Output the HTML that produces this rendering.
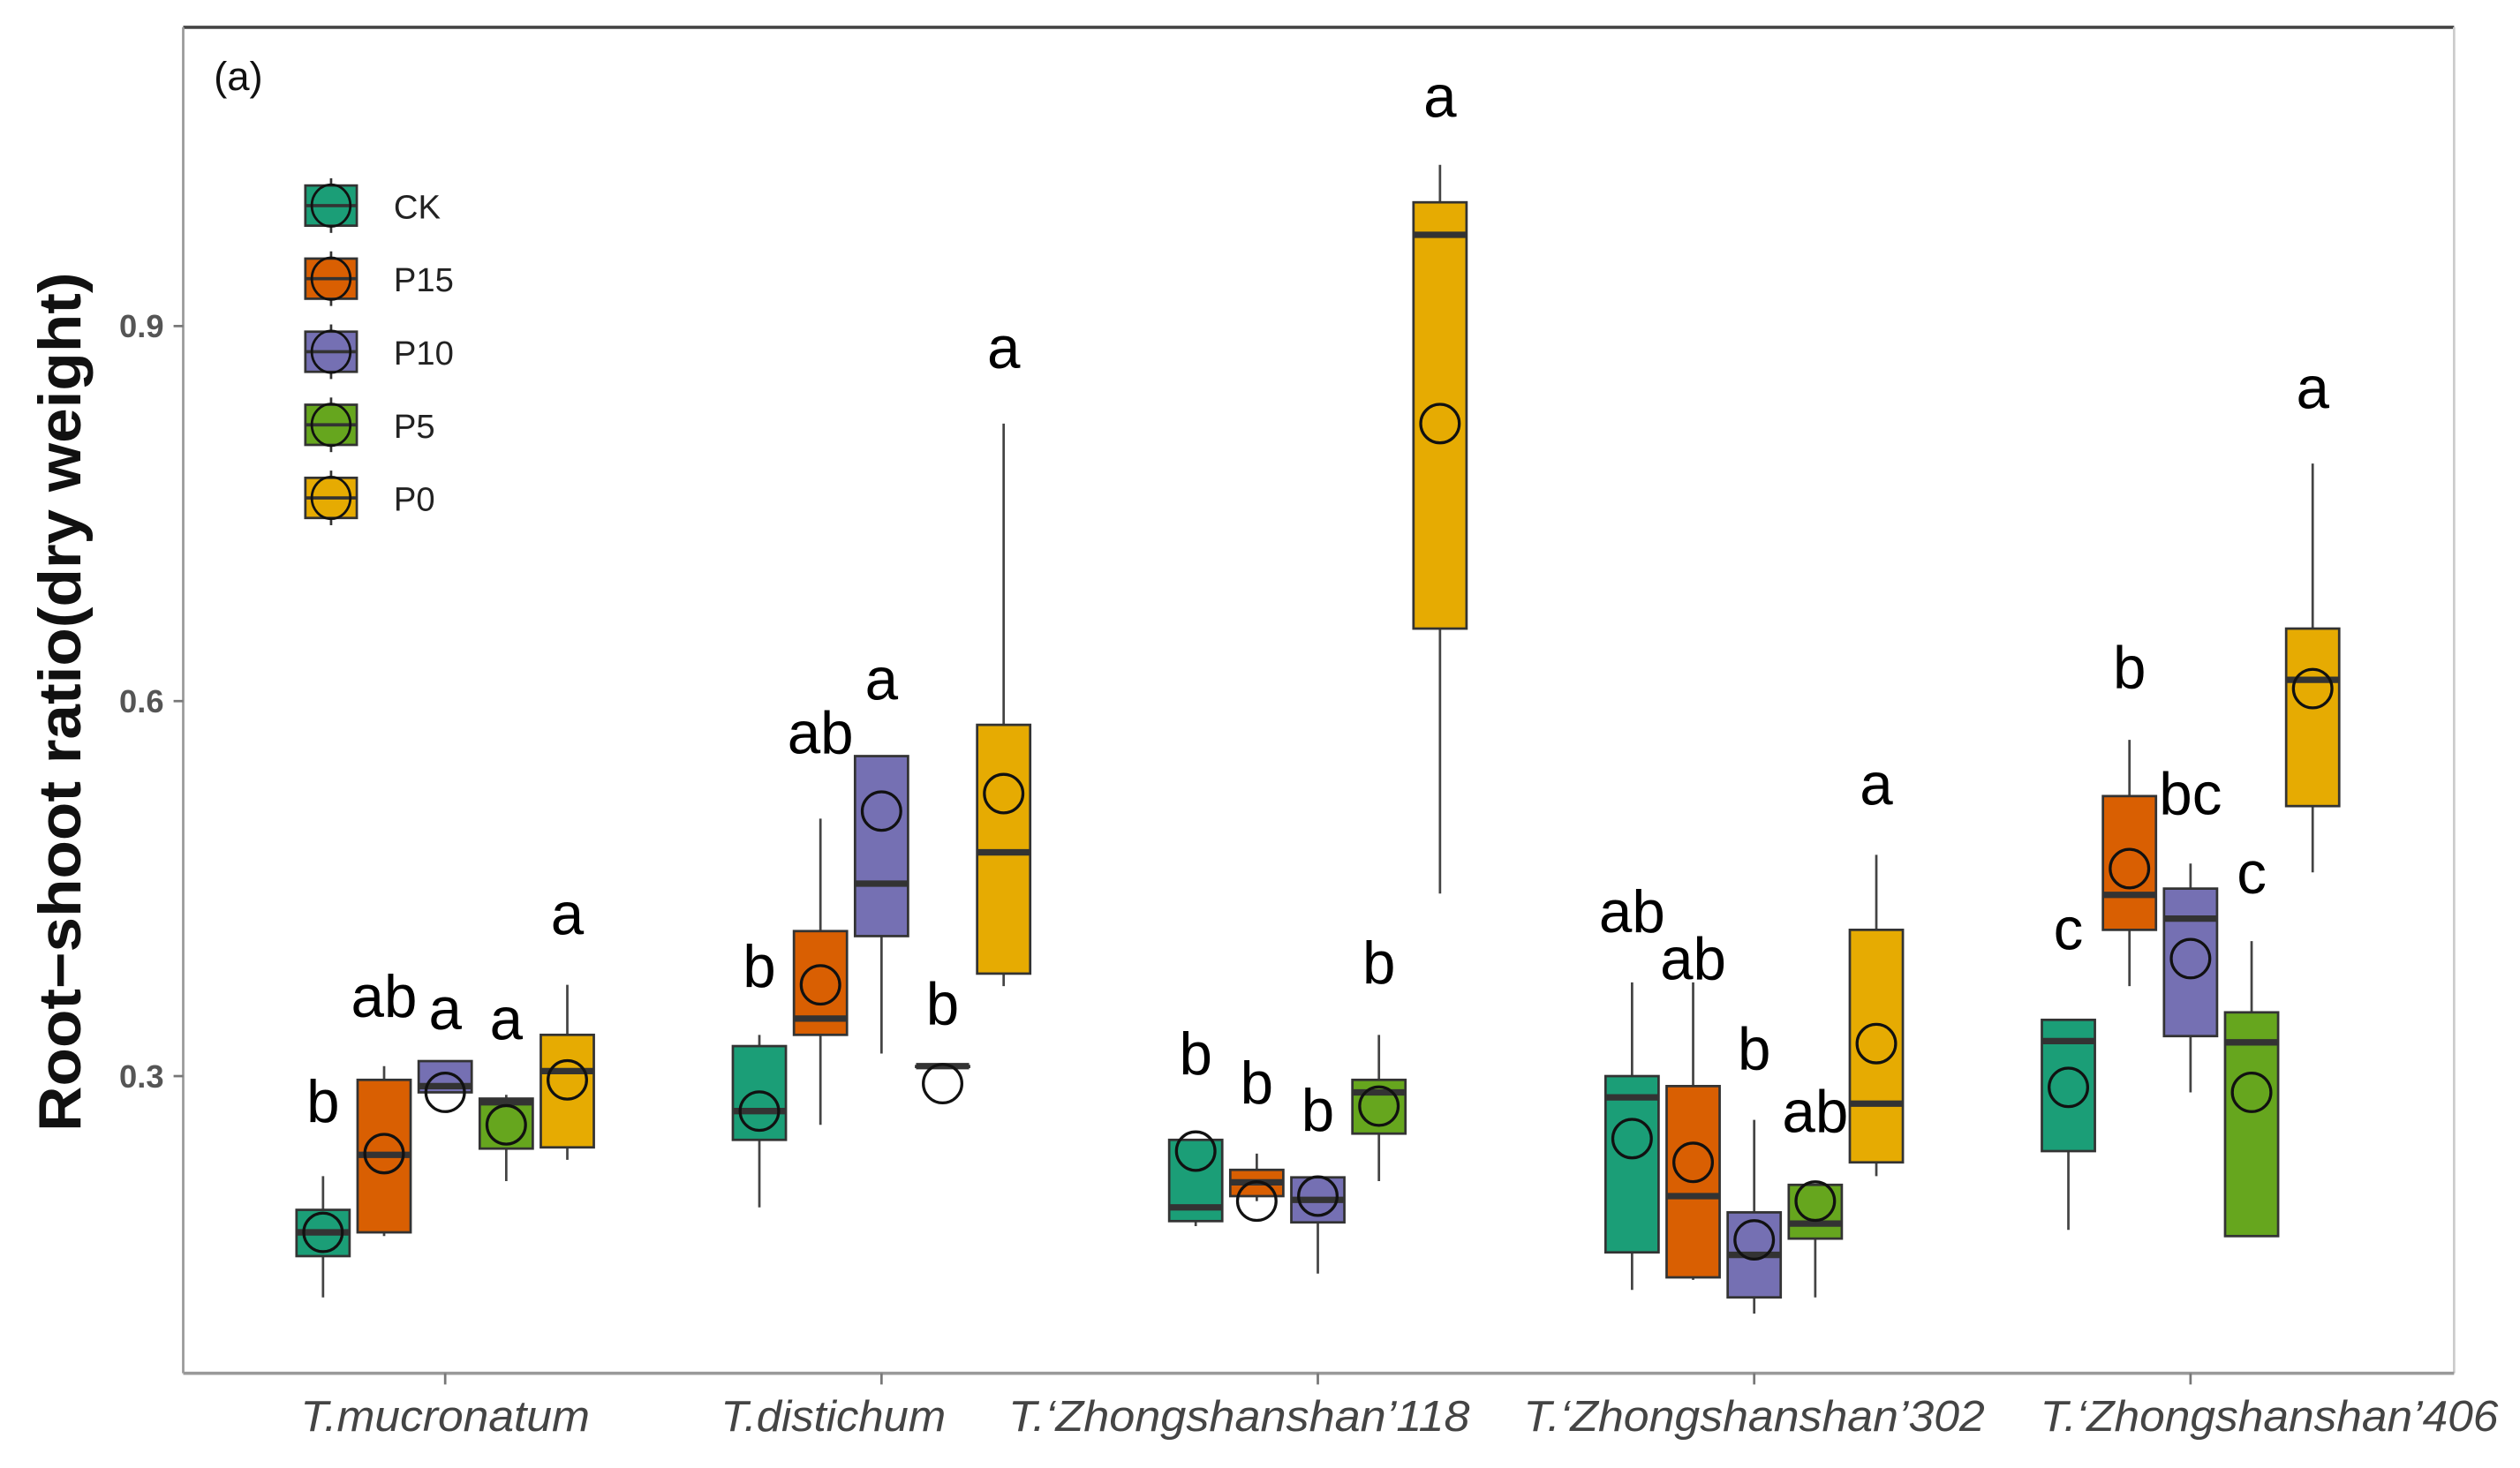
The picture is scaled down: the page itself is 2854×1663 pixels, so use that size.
<!DOCTYPE html>
<html><head><meta charset="utf-8">
<style>
html,body{margin:0;padding:0;background:#fff;}
svg{display:block;}
</style></head>
<body>
<svg id="chart" xmlns="http://www.w3.org/2000/svg" width="2854" height="1663" viewBox="0 0 1568 914" preserveAspectRatio="none" font-family="Liberation Sans, sans-serif">
  <rect x="0" y="0" width="1568" height="914" fill="#fff"/>
  <line x1="114" y1="17" x2="1527" y2="17" stroke="#444" stroke-width="2"/>
  <line x1="1527" y1="17" x2="1527" y2="855" stroke="#ccc" stroke-width="1.5"/>
  <line x1="114" y1="17" x2="114" y2="855" stroke="#999" stroke-width="1.5"/>
  <line x1="114" y1="855" x2="1527" y2="855" stroke="#999" stroke-width="2"/>
  <text x="133" y="56" font-size="25" fill="#111">(a)</text>
  <text transform="translate(50,437) rotate(-90)" text-anchor="middle" font-size="37" font-weight="bold" fill="#111" textLength="535" lengthAdjust="spacingAndGlyphs">Root−shoot ratio(dry weight)</text>
  <g id="marks"></g>
</svg>
<script>
const categories = ["T.mucronatum","T.distichum","T.‘Zhongshanshan’118","T.‘Zhongshanshan’302","T.‘Zhongshanshan’406"];
const treatments = ["CK","P15","P10","P5","P0"];
const colors = ["#1b9e77","#d95f02","#7570b3","#66a61e","#e6ab02"];
const yTicks = [0.3,0.6,0.9];
const yTickLabels = ["0.3","0.6","0.9"];
// per category, per treatment: [low, q1, median, q3, high]
const boxStats = [
  [[0.123,0.156,0.175,0.193,0.22],[0.172,0.175,0.237,0.297,0.308],[0.287,0.287,0.292,0.312,0.312],[0.216,0.242,0.279,0.282,0.285],[0.233,0.243,0.304,0.333,0.373]],
  [[0.195,0.249,0.272,0.324,0.333],[0.261,0.333,0.346,0.416,0.506],[0.318,0.412,0.454,0.556,0.556],[0.308,0.308,0.308,0.308,0.308],[0.372,0.382,0.479,0.581,0.822]],
  [[0.180,0.184,0.195,0.249,0.249],[0.200,0.204,0.215,0.225,0.238],[0.142,0.183,0.201,0.219,0.219],[0.216,0.254,0.287,0.297,0.333],[0.446,0.658,0.973,0.999,1.029]],
  [[0.129,0.159,0.283,0.300,0.375],[0.137,0.139,0.204,0.292,0.375],[0.110,0.123,0.157,0.191,0.265],[0.123,0.170,0.182,0.213,0.213],[0.220,0.231,0.278,0.417,0.477]],
  [[0.177,0.240,0.328,0.345,0.345],[0.372,0.417,0.445,0.524,0.569],[0.287,0.332,0.426,0.450,0.470],[0.172,0.172,0.327,0.351,0.408],[0.463,0.516,0.617,0.658,0.790]]
];
const means = [
  [0.175,0.238,0.287,0.261,0.297],
  [0.272,0.373,0.512,0.294,0.526],
  [0.240,0.200,0.204,0.276,0.822],
  [0.250,0.231,0.169,0.200,0.326],
  [0.291,0.466,0.394,0.287,0.610]
];
const letters = [
  ["b","ab","a","a","a"],
  ["b","ab","a","b","a"],
  ["b","b","b","b","a"],
  ["ab","ab","b","ab","a"],
  ["c","b","bc","c","a"]
];
const letterValues = [
  [0.280,0.364,0.354,0.346,0.430],
  [0.388,0.575,0.618,0.358,0.883],
  [0.318,0.295,0.273,0.391,1.084],
  [0.432,0.394,0.322,0.272,0.534],
  [0.418,0.627,0.526,0.463,0.851]
];

const NS = "http://www.w3.org/2000/svg";
const g = document.getElementById("marks");
function y(v){ return 670 - (v - 0.3) * 778.3; }
function xCat(i){ return 277 + i * 271.5; }
function xBox(i, j){ return xCat(i) + (j - 2) * 38; }
const bw = 33;
const labelShift = [0, -30, -49, 0, 49];
const labelWidth = [180, 140, 287, 287, 285];
function mk(tag, attrs){ const e = document.createElementNS(NS, tag); for (const k in attrs) e.setAttribute(k, attrs[k]); g.appendChild(e); return e; }

yTicks.forEach((t, k) => {
  const tl = mk("line", {x1:108, x2:114, y1:y(t), y2:y(t), stroke:"#777", "stroke-width":1.5});
  
  
  const tx = mk("text", {x:102, y:y(t)+7, "text-anchor":"end", "font-size":20, "font-weight":"bold", fill:"#555"});
  tx.textContent = yTickLabels[k];
  
  
});

categories.forEach((c, i) => {
  const tl = mk("line", {x1:xCat(i), x2:xCat(i), y1:855, y2:862, stroke:"#777", "stroke-width":1.5});
  
  
  const tx = mk("text", {x:xCat(i)+labelShift[i], y:891, "text-anchor":"middle", "font-size":27, "font-style":"italic", fill:"#444", textLength:labelWidth[i], lengthAdjust:"spacingAndGlyphs"});
  tx.textContent = c;
  
  

  treatments.forEach((t, j) => {
    const s = boxStats[i][j];
    const cx = xBox(i, j);
    const w = mk("line", {x1:cx, x2:cx, y1:y(s[0]), y2:y(s[4]), stroke:"#444", "stroke-width":1.5});
    
    
    const b = mk("rect", {x:cx-bw/2, y:y(s[3]), width:bw, height:Math.max(0.5, y(s[1])-y(s[3])), fill:colors[j], stroke:"#333", "stroke-width":1.5});
    
    
    const m = mk("line", {x1:cx-bw/2, x2:cx+bw/2, y1:y(s[2]), y2:y(s[2]), stroke:"#333", "stroke-width":4});
    
    
    const mc = mk("circle", {cx:cx, cy:y(means[i][j]), r:12, fill:"none", stroke:"#111", "stroke-width":1.8});
    
    
    const lt = mk("text", {x:cx, y:y(letterValues[i][j])+13, "text-anchor":"middle", "font-size":37, fill:"#000"});
    lt.textContent = letters[i][j];
    
    
  });
});

// legend
treatments.forEach((t, j) => {
  const cy = 128 + j * 45.5;
  const wl = mk("line", {x1:206, x2:206, y1:cy-17, y2:cy+17, stroke:"#333", "stroke-width":1.5});
  
  
  const r = mk("rect", {x:190, y:cy-12.5, width:32, height:25, fill:colors[j], stroke:"#333", "stroke-width":1.5});
  
  
  const ml = mk("line", {x1:190, x2:222, y1:cy, y2:cy, stroke:"#333", "stroke-width":2});
  
  
  const e = mk("ellipse", {cx:206, cy:cy, rx:12, ry:13, fill:"none", stroke:"#111", "stroke-width":1.5});
  
  
  const tx = mk("text", {x:245, y:cy+8, "font-size":21, fill:"#222"});
  tx.textContent = t;
  
  
});
</script>
</body></html>
